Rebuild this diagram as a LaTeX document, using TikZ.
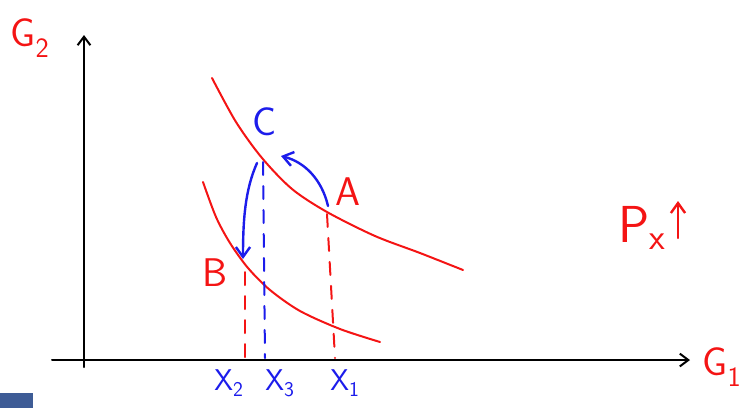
\documentclass[tikz,border=0pt]{standalone}
\usepackage{xcolor}
\usepackage{tikz}
\usetikzlibrary{arrows.meta,positioning}
\definecolor{dgRed}{HTML}{F41414}
\definecolor{dgBlue}{HTML}{1C1CEB}
\definecolor{dgPanel}{HTML}{3E5C96}
\tikzset{
  dg diagram/.style={font=\sffamily, x=1pt, y=-1pt,
    line cap=round, line join=round},
  dg axis/.style={-{Straight Barb[length=3mm,width=4.5mm]}, draw=black, line width=2pt},
  dg curve/.style={draw=dgRed, line width=2pt},
  dg drop/.style={line width=2pt, dash pattern=on 13pt off 11pt},
  dg move/.style={-{Straight Barb[length=3.5mm,width=5mm]}, draw=dgBlue, line width=2.4pt},
  dg label/.style={font=\sffamily\fontsize{40}{42}\selectfont, inner sep=1pt},
  dg tick label/.style={font=\sffamily\fontsize{30}{32}\selectfont, text=dgBlue, inner sep=1pt}
}

\begin{document}
\begin{tikzpicture}[dg diagram]
\useasboundingbox (0,0) rectangle (744,408);
\fill[dgPanel] (0,393) rectangle (33,408);
% axes
\coordinate (ybot) at (84,367);
\coordinate (ytop) at (84,35);
\coordinate (xleft) at (52,360);
\coordinate (xright) at (690,360);
\draw[dg axis] (ybot) -- (ytop);
\draw[dg axis] (xleft) -- (xright);
\node[dg label, text=dgRed] (gtwo) at (30,38) {G\textsubscript{2}};
\node[dg label, text=dgRed] (gone) at (722,367) {G\textsubscript{1}};
% indifference curves
\draw[dg curve] plot[smooth] coordinates {(212,78) (236,122) (262,158) (292,189) (327,212) (375,236) (420,253) (463,270)};
\draw[dg curve] plot[smooth] coordinates {(203,182) (216,217) (230,243) (248,268) (270,290) (300,311) (340,329) (380,342)};
% points
\coordinate (ptA) at (327,214);
\coordinate (ptB) at (245,272);
\coordinate (ptC) at (263,162);
\coordinate (footA) at (335,358);
\coordinate (footB) at (245,358);
\coordinate (footC) at (265,358);
\node[dg label, text=dgRed] (labA) at (348,192) {A};
\node[dg label, text=dgRed] (labB) at (215,273) {B};
\node[dg label, text=dgBlue] (labC) at (265,122) {C};
\draw[dg drop, draw=dgRed] (ptA) -- (footA);
\draw[dg drop, draw=dgRed] (ptB) -- (footB);
\draw[dg drop, draw=dgBlue] (ptC) -- (footC);
\node[dg tick label] (xtwo) at (229,383) {X\textsubscript{2}};
\node[dg tick label] (xthree) at (280,383) {X\textsubscript{3}};
\node[dg tick label] (xone) at (345,383) {X\textsubscript{1}};
% moves
\coordinate (tipC) at (281,156);
\coordinate (tipB) at (243,259);
\draw[dg move] (328,206) .. controls (322,180) and (305,162) .. (tipC);
\draw[dg move] (257,163) .. controls (245,190) and (243,220) .. (tipB);
% price change
\node[font=\sffamily\fontsize{52}{54}\selectfont, text=dgRed, inner sep=1pt] (price) at (642,228) {P\textsubscript{x}};
\coordinate (upbot) at (678,238);
\coordinate (uptop) at (678,201);
\draw[dg move, draw=dgRed] (upbot) -- (uptop);
\end{tikzpicture}
\end{document}
